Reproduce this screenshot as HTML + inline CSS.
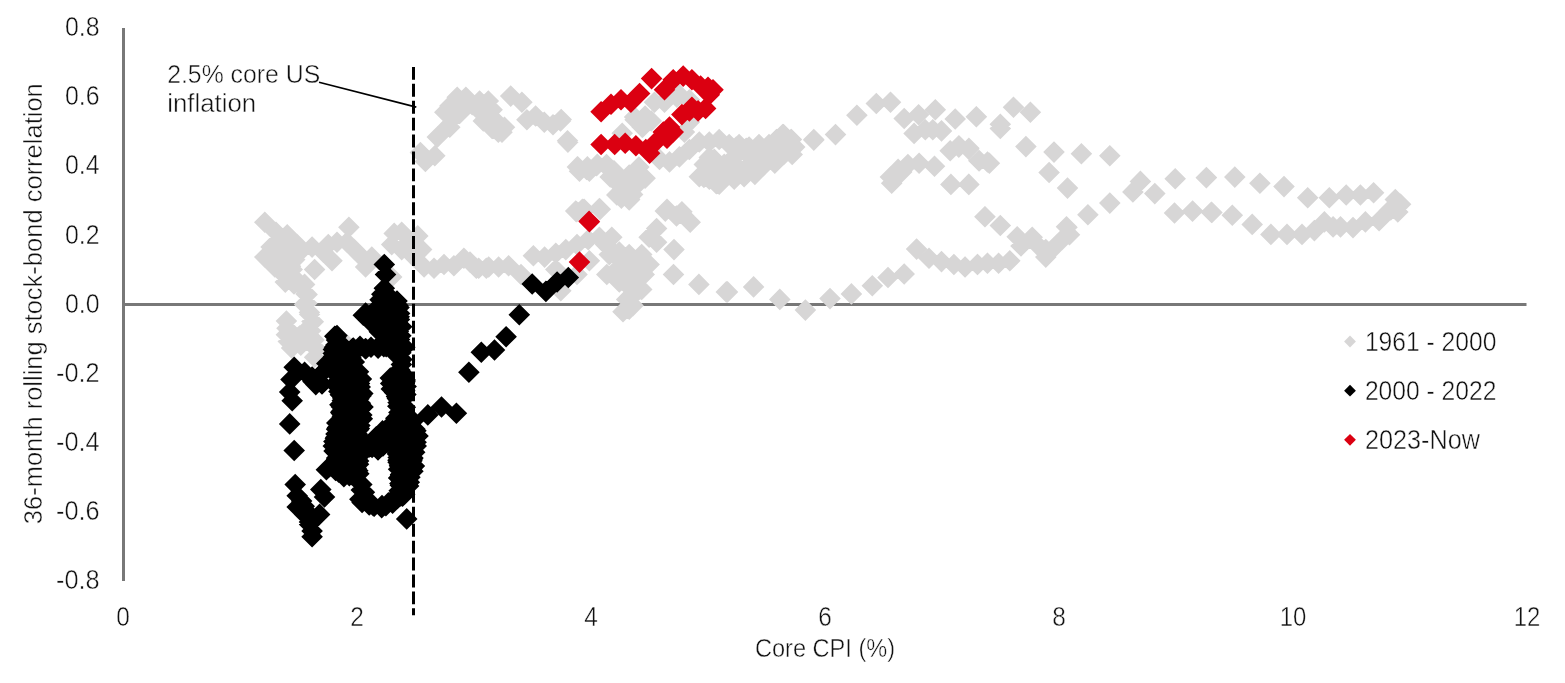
<!DOCTYPE html>
<html lang="en"><head><meta charset="utf-8"><title>Stock-bond correlation vs Core CPI</title>
<style>html,body{margin:0;padding:0;background:#fff}svg{display:block}</style></head>
<body>
<svg width="1565" height="683" viewBox="0 0 1565 683" font-family="'Liberation Sans', sans-serif" fill="#111111">
<style>text{stroke:#fff;stroke-width:0.45px;paint-order:fill stroke}</style>
<rect width="1565" height="683" fill="#fff"/>
<line x1="123.5" y1="28" x2="123.5" y2="581" stroke="#787878" stroke-width="3"/>
<line x1="122" y1="304.5" x2="1526.5" y2="304.5" stroke="#787878" stroke-width="3"/>
<path fill="#d7d6d6" d="M420.4 141.8l10.8 10.8l-10.8 10.8l-10.8 -10.8zM425.4 150.7l10.8 10.8l-10.8 10.8l-10.8 -10.8zM434.8 145.0l10.8 10.8l-10.8 10.8l-10.8 -10.8zM437.3 126.3l10.8 10.8l-10.8 10.8l-10.8 -10.8zM443.5 120.1l10.8 10.8l-10.8 10.8l-10.8 -10.8zM449.8 116.4l10.8 10.8l-10.8 10.8l-10.8 -10.8zM444.8 101.4l10.8 10.8l-10.8 10.8l-10.8 -10.8zM449.8 95.2l10.8 10.8l-10.8 10.8l-10.8 -10.8zM457.2 86.5l10.8 10.8l-10.8 10.8l-10.8 -10.8zM465.9 86.5l10.8 10.8l-10.8 10.8l-10.8 -10.8zM462.2 96.5l10.8 10.8l-10.8 10.8l-10.8 -10.8zM472.2 94.0l10.8 10.8l-10.8 10.8l-10.8 -10.8zM479.6 90.3l10.8 10.8l-10.8 10.8l-10.8 -10.8zM488.3 90.3l10.8 10.8l-10.8 10.8l-10.8 -10.8zM492.1 99.0l10.8 10.8l-10.8 10.8l-10.8 -10.8zM487.1 103.9l10.8 10.8l-10.8 10.8l-10.8 -10.8zM495.8 110.2l10.8 10.8l-10.8 10.8l-10.8 -10.8zM504.5 116.4l10.8 10.8l-10.8 10.8l-10.8 -10.8zM502.0 121.4l10.8 10.8l-10.8 10.8l-10.8 -10.8zM453.5 106.4l10.8 10.8l-10.8 10.8l-10.8 -10.8zM459.7 102.7l10.8 10.8l-10.8 10.8l-10.8 -10.8zM482.1 102.7l10.8 10.8l-10.8 10.8l-10.8 -10.8zM483.3 110.2l10.8 10.8l-10.8 10.8l-10.8 -10.8zM492.1 117.6l10.8 10.8l-10.8 10.8l-10.8 -10.8zM498.3 121.4l10.8 10.8l-10.8 10.8l-10.8 -10.8zM510.7 85.3l10.8 10.8l-10.8 10.8l-10.8 -10.8zM521.9 91.5l10.8 10.8l-10.8 10.8l-10.8 -10.8zM526.9 108.9l10.8 10.8l-10.8 10.8l-10.8 -10.8zM535.6 105.2l10.8 10.8l-10.8 10.8l-10.8 -10.8zM544.3 111.4l10.8 10.8l-10.8 10.8l-10.8 -10.8zM553.0 113.9l10.8 10.8l-10.8 10.8l-10.8 -10.8zM560.5 110.2l10.8 10.8l-10.8 10.8l-10.8 -10.8zM567.9 131.3l10.8 10.8l-10.8 10.8l-10.8 -10.8zM577.9 156.2l10.8 10.8l-10.8 10.8l-10.8 -10.8zM586.6 158.7l10.8 10.8l-10.8 10.8l-10.8 -10.8zM596.6 154.9l10.8 10.8l-10.8 10.8l-10.8 -10.8zM606.5 153.7l10.8 10.8l-10.8 10.8l-10.8 -10.8zM614.0 159.9l10.8 10.8l-10.8 10.8l-10.8 -10.8zM610.2 166.1l10.8 10.8l-10.8 10.8l-10.8 -10.8zM618.9 173.6l10.8 10.8l-10.8 10.8l-10.8 -10.8zM627.7 166.1l10.8 10.8l-10.8 10.8l-10.8 -10.8zM632.6 183.6l10.8 10.8l-10.8 10.8l-10.8 -10.8zM621.4 187.3l10.8 10.8l-10.8 10.8l-10.8 -10.8zM628.9 188.5l10.8 10.8l-10.8 10.8l-10.8 -10.8zM645.1 167.4l10.8 10.8l-10.8 10.8l-10.8 -10.8zM638.9 156.2l10.8 10.8l-10.8 10.8l-10.8 -10.8zM635.1 108.9l10.8 10.8l-10.8 10.8l-10.8 -10.8zM645.1 105.2l10.8 10.8l-10.8 10.8l-10.8 -10.8zM651.3 110.2l10.8 10.8l-10.8 10.8l-10.8 -10.8zM642.6 116.4l10.8 10.8l-10.8 10.8l-10.8 -10.8zM576.7 201.0l10.8 10.8l-10.8 10.8l-10.8 -10.8zM584.1 198.5l10.8 10.8l-10.8 10.8l-10.8 -10.8zM600.3 198.5l10.8 10.8l-10.8 10.8l-10.8 -10.8zM264.8 211.4l10.8 10.8l-10.8 10.8l-10.8 -10.8zM276.0 221.4l10.8 10.8l-10.8 10.8l-10.8 -10.8zM287.2 223.9l10.8 10.8l-10.8 10.8l-10.8 -10.8zM264.8 246.3l10.8 10.8l-10.8 10.8l-10.8 -10.8zM271.1 236.3l10.8 10.8l-10.8 10.8l-10.8 -10.8zM277.3 231.4l10.8 10.8l-10.8 10.8l-10.8 -10.8zM283.5 241.3l10.8 10.8l-10.8 10.8l-10.8 -10.8zM274.8 256.2l10.8 10.8l-10.8 10.8l-10.8 -10.8zM283.5 263.7l10.8 10.8l-10.8 10.8l-10.8 -10.8zM292.2 258.7l10.8 10.8l-10.8 10.8l-10.8 -10.8zM294.7 248.8l10.8 10.8l-10.8 10.8l-10.8 -10.8zM302.2 238.8l10.8 10.8l-10.8 10.8l-10.8 -10.8zM297.2 233.8l10.8 10.8l-10.8 10.8l-10.8 -10.8zM287.2 233.8l10.8 10.8l-10.8 10.8l-10.8 -10.8zM279.8 248.8l10.8 10.8l-10.8 10.8l-10.8 -10.8zM314.6 258.7l10.8 10.8l-10.8 10.8l-10.8 -10.8zM293.4 266.2l10.8 10.8l-10.8 10.8l-10.8 -10.8zM297.2 271.2l10.8 10.8l-10.8 10.8l-10.8 -10.8zM304.6 273.6l10.8 10.8l-10.8 10.8l-10.8 -10.8zM307.1 283.6l10.8 10.8l-10.8 10.8l-10.8 -10.8zM304.6 293.6l10.8 10.8l-10.8 10.8l-10.8 -10.8zM309.6 303.5l10.8 10.8l-10.8 10.8l-10.8 -10.8zM313.3 311.0l10.8 10.8l-10.8 10.8l-10.8 -10.8zM307.1 318.4l10.8 10.8l-10.8 10.8l-10.8 -10.8zM312.1 236.3l10.8 10.8l-10.8 10.8l-10.8 -10.8zM323.3 241.3l10.8 10.8l-10.8 10.8l-10.8 -10.8zM332.0 250.0l10.8 10.8l-10.8 10.8l-10.8 -10.8zM328.3 233.8l10.8 10.8l-10.8 10.8l-10.8 -10.8zM337.0 231.4l10.8 10.8l-10.8 10.8l-10.8 -10.8zM348.9 216.4l10.8 10.8l-10.8 10.8l-10.8 -10.8zM346.9 231.4l10.8 10.8l-10.8 10.8l-10.8 -10.8zM354.4 238.8l10.8 10.8l-10.8 10.8l-10.8 -10.8zM361.9 246.3l10.8 10.8l-10.8 10.8l-10.8 -10.8zM365.6 256.2l10.8 10.8l-10.8 10.8l-10.8 -10.8zM371.8 246.3l10.8 10.8l-10.8 10.8l-10.8 -10.8zM394.2 222.6l10.8 10.8l-10.8 10.8l-10.8 -10.8zM401.7 221.4l10.8 10.8l-10.8 10.8l-10.8 -10.8zM409.1 231.4l10.8 10.8l-10.8 10.8l-10.8 -10.8zM391.7 233.8l10.8 10.8l-10.8 10.8l-10.8 -10.8zM401.7 238.8l10.8 10.8l-10.8 10.8l-10.8 -10.8zM417.8 225.1l10.8 10.8l-10.8 10.8l-10.8 -10.8zM421.6 238.8l10.8 10.8l-10.8 10.8l-10.8 -10.8zM414.1 246.3l10.8 10.8l-10.8 10.8l-10.8 -10.8zM424.1 256.2l10.8 10.8l-10.8 10.8l-10.8 -10.8zM434.0 257.5l10.8 10.8l-10.8 10.8l-10.8 -10.8zM444.0 253.7l10.8 10.8l-10.8 10.8l-10.8 -10.8zM453.9 255.0l10.8 10.8l-10.8 10.8l-10.8 -10.8zM463.9 247.5l10.8 10.8l-10.8 10.8l-10.8 -10.8zM476.3 257.5l10.8 10.8l-10.8 10.8l-10.8 -10.8zM486.3 257.5l10.8 10.8l-10.8 10.8l-10.8 -10.8zM391.7 266.2l10.8 10.8l-10.8 10.8l-10.8 -10.8zM314.6 346.4l10.8 10.8l-10.8 10.8l-10.8 -10.8zM346.9 334.0l10.8 10.8l-10.8 10.8l-10.8 -10.8zM286.4 310.2l10.8 10.8l-10.8 10.8l-10.8 -10.8zM287.0 317.4l10.8 10.8l-10.8 10.8l-10.8 -10.8zM286.4 324.0l10.8 10.8l-10.8 10.8l-10.8 -10.8zM288.3 330.6l10.8 10.8l-10.8 10.8l-10.8 -10.8zM291.6 337.2l10.8 10.8l-10.8 10.8l-10.8 -10.8zM299.5 325.3l10.8 10.8l-10.8 10.8l-10.8 -10.8zM300.8 334.5l10.8 10.8l-10.8 10.8l-10.8 -10.8zM306.1 283.2l10.8 10.8l-10.8 10.8l-10.8 -10.8zM306.8 292.4l10.8 10.8l-10.8 10.8l-10.8 -10.8zM309.4 301.6l10.8 10.8l-10.8 10.8l-10.8 -10.8zM312.0 310.8l10.8 10.8l-10.8 10.8l-10.8 -10.8zM310.7 320.0l10.8 10.8l-10.8 10.8l-10.8 -10.8zM314.0 329.3l10.8 10.8l-10.8 10.8l-10.8 -10.8zM316.7 338.5l10.8 10.8l-10.8 10.8l-10.8 -10.8zM470.0 251.3l10.8 10.8l-10.8 10.8l-10.8 -10.8zM478.7 257.5l10.8 10.8l-10.8 10.8l-10.8 -10.8zM488.7 256.2l10.8 10.8l-10.8 10.8l-10.8 -10.8zM498.6 256.2l10.8 10.8l-10.8 10.8l-10.8 -10.8zM508.6 255.0l10.8 10.8l-10.8 10.8l-10.8 -10.8zM521.0 263.7l10.8 10.8l-10.8 10.8l-10.8 -10.8zM533.4 245.0l10.8 10.8l-10.8 10.8l-10.8 -10.8zM544.6 246.3l10.8 10.8l-10.8 10.8l-10.8 -10.8zM555.8 242.5l10.8 10.8l-10.8 10.8l-10.8 -10.8zM565.8 238.8l10.8 10.8l-10.8 10.8l-10.8 -10.8zM577.0 233.8l10.8 10.8l-10.8 10.8l-10.8 -10.8zM588.2 228.9l10.8 10.8l-10.8 10.8l-10.8 -10.8zM555.8 258.7l10.8 10.8l-10.8 10.8l-10.8 -10.8zM560.8 279.9l10.8 10.8l-10.8 10.8l-10.8 -10.8zM577.0 263.7l10.8 10.8l-10.8 10.8l-10.8 -10.8zM589.4 250.0l10.8 10.8l-10.8 10.8l-10.8 -10.8zM575.7 200.3l10.8 10.8l-10.8 10.8l-10.8 -10.8zM583.2 199.0l10.8 10.8l-10.8 10.8l-10.8 -10.8zM599.4 197.8l10.8 10.8l-10.8 10.8l-10.8 -10.8zM599.4 226.4l10.8 10.8l-10.8 10.8l-10.8 -10.8zM611.8 226.4l10.8 10.8l-10.8 10.8l-10.8 -10.8zM605.6 233.8l10.8 10.8l-10.8 10.8l-10.8 -10.8zM609.3 243.8l10.8 10.8l-10.8 10.8l-10.8 -10.8zM619.3 241.3l10.8 10.8l-10.8 10.8l-10.8 -10.8zM629.2 243.8l10.8 10.8l-10.8 10.8l-10.8 -10.8zM641.7 243.8l10.8 10.8l-10.8 10.8l-10.8 -10.8zM649.1 253.7l10.8 10.8l-10.8 10.8l-10.8 -10.8zM644.2 263.7l10.8 10.8l-10.8 10.8l-10.8 -10.8zM629.2 258.7l10.8 10.8l-10.8 10.8l-10.8 -10.8zM616.8 258.7l10.8 10.8l-10.8 10.8l-10.8 -10.8zM606.8 263.7l10.8 10.8l-10.8 10.8l-10.8 -10.8zM619.3 271.2l10.8 10.8l-10.8 10.8l-10.8 -10.8zM629.2 276.1l10.8 10.8l-10.8 10.8l-10.8 -10.8zM641.7 278.6l10.8 10.8l-10.8 10.8l-10.8 -10.8zM634.2 283.6l10.8 10.8l-10.8 10.8l-10.8 -10.8zM626.7 288.6l10.8 10.8l-10.8 10.8l-10.8 -10.8zM629.2 298.5l10.8 10.8l-10.8 10.8l-10.8 -10.8zM623.0 301.0l10.8 10.8l-10.8 10.8l-10.8 -10.8zM633.0 294.8l10.8 10.8l-10.8 10.8l-10.8 -10.8zM611.8 166.7l10.8 10.8l-10.8 10.8l-10.8 -10.8zM621.8 174.1l10.8 10.8l-10.8 10.8l-10.8 -10.8zM616.8 184.1l10.8 10.8l-10.8 10.8l-10.8 -10.8zM629.2 189.1l10.8 10.8l-10.8 10.8l-10.8 -10.8zM631.7 179.1l10.8 10.8l-10.8 10.8l-10.8 -10.8zM641.7 169.2l10.8 10.8l-10.8 10.8l-10.8 -10.8zM629.2 164.2l10.8 10.8l-10.8 10.8l-10.8 -10.8zM665.3 200.3l10.8 10.8l-10.8 10.8l-10.8 -10.8zM676.5 205.2l10.8 10.8l-10.8 10.8l-10.8 -10.8zM684.0 205.2l10.8 10.8l-10.8 10.8l-10.8 -10.8zM690.2 211.4l10.8 10.8l-10.8 10.8l-10.8 -10.8zM656.6 217.7l10.8 10.8l-10.8 10.8l-10.8 -10.8zM649.1 226.4l10.8 10.8l-10.8 10.8l-10.8 -10.8zM656.6 231.4l10.8 10.8l-10.8 10.8l-10.8 -10.8zM674.0 238.8l10.8 10.8l-10.8 10.8l-10.8 -10.8zM673.5 263.7l10.8 10.8l-10.8 10.8l-10.8 -10.8zM698.9 273.6l10.8 10.8l-10.8 10.8l-10.8 -10.8zM726.3 281.1l10.8 10.8l-10.8 10.8l-10.8 -10.8zM579.5 160.4l10.8 10.8l-10.8 10.8l-10.8 -10.8zM589.4 160.4l10.8 10.8l-10.8 10.8l-10.8 -10.8zM703.9 166.7l10.8 10.8l-10.8 10.8l-10.8 -10.8zM716.3 172.9l10.8 10.8l-10.8 10.8l-10.8 -10.8zM561.2 108.8l10.8 10.8l-10.8 10.8l-10.8 -10.8zM567.5 130.0l10.8 10.8l-10.8 10.8l-10.8 -10.8zM577.4 156.1l10.8 10.8l-10.8 10.8l-10.8 -10.8zM587.4 156.1l10.8 10.8l-10.8 10.8l-10.8 -10.8zM597.3 153.6l10.8 10.8l-10.8 10.8l-10.8 -10.8zM609.8 158.6l10.8 10.8l-10.8 10.8l-10.8 -10.8zM617.2 166.0l10.8 10.8l-10.8 10.8l-10.8 -10.8zM624.7 173.5l10.8 10.8l-10.8 10.8l-10.8 -10.8zM632.2 168.5l10.8 10.8l-10.8 10.8l-10.8 -10.8zM642.1 168.5l10.8 10.8l-10.8 10.8l-10.8 -10.8zM622.2 183.5l10.8 10.8l-10.8 10.8l-10.8 -10.8zM629.7 188.4l10.8 10.8l-10.8 10.8l-10.8 -10.8zM634.6 106.3l10.8 10.8l-10.8 10.8l-10.8 -10.8zM644.6 108.8l10.8 10.8l-10.8 10.8l-10.8 -10.8zM654.5 91.4l10.8 10.8l-10.8 10.8l-10.8 -10.8zM664.5 91.4l10.8 10.8l-10.8 10.8l-10.8 -10.8zM676.9 86.4l10.8 10.8l-10.8 10.8l-10.8 -10.8zM642.1 116.3l10.8 10.8l-10.8 10.8l-10.8 -10.8zM679.4 83.9l10.8 10.8l-10.8 10.8l-10.8 -10.8zM689.4 88.9l10.8 10.8l-10.8 10.8l-10.8 -10.8zM689.4 111.3l10.8 10.8l-10.8 10.8l-10.8 -10.8zM684.4 121.3l10.8 10.8l-10.8 10.8l-10.8 -10.8zM622.2 122.5l10.8 10.8l-10.8 10.8l-10.8 -10.8zM659.5 148.6l10.8 10.8l-10.8 10.8l-10.8 -10.8zM669.5 151.1l10.8 10.8l-10.8 10.8l-10.8 -10.8zM679.4 146.1l10.8 10.8l-10.8 10.8l-10.8 -10.8zM689.4 138.7l10.8 10.8l-10.8 10.8l-10.8 -10.8zM699.3 131.2l10.8 10.8l-10.8 10.8l-10.8 -10.8zM709.3 131.2l10.8 10.8l-10.8 10.8l-10.8 -10.8zM719.2 128.7l10.8 10.8l-10.8 10.8l-10.8 -10.8zM729.2 133.7l10.8 10.8l-10.8 10.8l-10.8 -10.8zM739.1 133.7l10.8 10.8l-10.8 10.8l-10.8 -10.8zM749.1 136.2l10.8 10.8l-10.8 10.8l-10.8 -10.8zM759.0 133.7l10.8 10.8l-10.8 10.8l-10.8 -10.8zM769.0 133.7l10.8 10.8l-10.8 10.8l-10.8 -10.8zM776.5 128.7l10.8 10.8l-10.8 10.8l-10.8 -10.8zM782.7 123.7l10.8 10.8l-10.8 10.8l-10.8 -10.8zM791.4 128.7l10.8 10.8l-10.8 10.8l-10.8 -10.8zM793.9 136.2l10.8 10.8l-10.8 10.8l-10.8 -10.8zM783.9 143.6l10.8 10.8l-10.8 10.8l-10.8 -10.8zM774.0 151.1l10.8 10.8l-10.8 10.8l-10.8 -10.8zM764.0 153.6l10.8 10.8l-10.8 10.8l-10.8 -10.8zM754.1 161.1l10.8 10.8l-10.8 10.8l-10.8 -10.8zM744.1 166.0l10.8 10.8l-10.8 10.8l-10.8 -10.8zM734.2 168.5l10.8 10.8l-10.8 10.8l-10.8 -10.8zM721.7 171.0l10.8 10.8l-10.8 10.8l-10.8 -10.8zM719.2 173.5l10.8 10.8l-10.8 10.8l-10.8 -10.8zM709.3 168.5l10.8 10.8l-10.8 10.8l-10.8 -10.8zM699.3 166.0l10.8 10.8l-10.8 10.8l-10.8 -10.8zM704.3 153.6l10.8 10.8l-10.8 10.8l-10.8 -10.8zM714.3 148.6l10.8 10.8l-10.8 10.8l-10.8 -10.8zM724.2 153.6l10.8 10.8l-10.8 10.8l-10.8 -10.8zM734.2 146.1l10.8 10.8l-10.8 10.8l-10.8 -10.8zM813.8 128.7l10.8 10.8l-10.8 10.8l-10.8 -10.8zM582.4 198.4l10.8 10.8l-10.8 10.8l-10.8 -10.8zM599.8 198.4l10.8 10.8l-10.8 10.8l-10.8 -10.8zM667.0 198.4l10.8 10.8l-10.8 10.8l-10.8 -10.8zM681.9 200.9l10.8 10.8l-10.8 10.8l-10.8 -10.8zM736.2 136.3l10.8 10.8l-10.8 10.8l-10.8 -10.8zM746.2 137.5l10.8 10.8l-10.8 10.8l-10.8 -10.8zM756.1 137.5l10.8 10.8l-10.8 10.8l-10.8 -10.8zM764.8 140.0l10.8 10.8l-10.8 10.8l-10.8 -10.8zM774.8 136.3l10.8 10.8l-10.8 10.8l-10.8 -10.8zM783.5 123.8l10.8 10.8l-10.8 10.8l-10.8 -10.8zM791.0 128.8l10.8 10.8l-10.8 10.8l-10.8 -10.8zM794.7 136.3l10.8 10.8l-10.8 10.8l-10.8 -10.8zM792.2 143.7l10.8 10.8l-10.8 10.8l-10.8 -10.8zM782.2 136.3l10.8 10.8l-10.8 10.8l-10.8 -10.8zM774.8 152.5l10.8 10.8l-10.8 10.8l-10.8 -10.8zM764.8 153.7l10.8 10.8l-10.8 10.8l-10.8 -10.8zM754.9 163.6l10.8 10.8l-10.8 10.8l-10.8 -10.8zM744.9 158.7l10.8 10.8l-10.8 10.8l-10.8 -10.8zM736.2 166.1l10.8 10.8l-10.8 10.8l-10.8 -10.8zM735.0 153.7l10.8 10.8l-10.8 10.8l-10.8 -10.8zM813.8 129.3l10.8 10.8l-10.8 10.8l-10.8 -10.8zM835.5 123.8l10.8 10.8l-10.8 10.8l-10.8 -10.8zM856.9 104.4l10.8 10.8l-10.8 10.8l-10.8 -10.8zM876.3 92.7l10.8 10.8l-10.8 10.8l-10.8 -10.8zM890.5 91.5l10.8 10.8l-10.8 10.8l-10.8 -10.8zM904.2 107.7l10.8 10.8l-10.8 10.8l-10.8 -10.8zM918.6 103.9l10.8 10.8l-10.8 10.8l-10.8 -10.8zM935.3 99.0l10.8 10.8l-10.8 10.8l-10.8 -10.8zM955.2 108.2l10.8 10.8l-10.8 10.8l-10.8 -10.8zM976.3 105.9l10.8 10.8l-10.8 10.8l-10.8 -10.8zM914.1 122.6l10.8 10.8l-10.8 10.8l-10.8 -10.8zM925.3 118.9l10.8 10.8l-10.8 10.8l-10.8 -10.8zM932.8 118.9l10.8 10.8l-10.8 10.8l-10.8 -10.8zM941.5 120.1l10.8 10.8l-10.8 10.8l-10.8 -10.8zM950.2 140.0l10.8 10.8l-10.8 10.8l-10.8 -10.8zM958.9 135.0l10.8 10.8l-10.8 10.8l-10.8 -10.8zM968.9 137.5l10.8 10.8l-10.8 10.8l-10.8 -10.8zM978.8 150.0l10.8 10.8l-10.8 10.8l-10.8 -10.8zM987.5 151.2l10.8 10.8l-10.8 10.8l-10.8 -10.8zM891.7 172.4l10.8 10.8l-10.8 10.8l-10.8 -10.8zM896.7 166.1l10.8 10.8l-10.8 10.8l-10.8 -10.8zM901.7 161.2l10.8 10.8l-10.8 10.8l-10.8 -10.8zM907.9 153.7l10.8 10.8l-10.8 10.8l-10.8 -10.8zM919.1 152.5l10.8 10.8l-10.8 10.8l-10.8 -10.8zM934.5 155.4l10.8 10.8l-10.8 10.8l-10.8 -10.8zM950.9 173.6l10.8 10.8l-10.8 10.8l-10.8 -10.8zM968.9 173.6l10.8 10.8l-10.8 10.8l-10.8 -10.8zM985.0 205.9l10.8 10.8l-10.8 10.8l-10.8 -10.8zM727.5 281.1l10.8 10.8l-10.8 10.8l-10.8 -10.8zM753.6 276.1l10.8 10.8l-10.8 10.8l-10.8 -10.8zM779.8 288.6l10.8 10.8l-10.8 10.8l-10.8 -10.8zM805.4 299.3l10.8 10.8l-10.8 10.8l-10.8 -10.8zM830.0 287.8l10.8 10.8l-10.8 10.8l-10.8 -10.8zM851.4 283.1l10.8 10.8l-10.8 10.8l-10.8 -10.8zM872.3 274.9l10.8 10.8l-10.8 10.8l-10.8 -10.8zM888.0 266.7l10.8 10.8l-10.8 10.8l-10.8 -10.8zM904.2 263.2l10.8 10.8l-10.8 10.8l-10.8 -10.8zM916.6 238.3l10.8 10.8l-10.8 10.8l-10.8 -10.8zM929.0 247.5l10.8 10.8l-10.8 10.8l-10.8 -10.8zM941.5 250.8l10.8 10.8l-10.8 10.8l-10.8 -10.8zM953.9 253.7l10.8 10.8l-10.8 10.8l-10.8 -10.8zM965.1 256.2l10.8 10.8l-10.8 10.8l-10.8 -10.8zM977.6 253.7l10.8 10.8l-10.8 10.8l-10.8 -10.8zM987.5 252.5l10.8 10.8l-10.8 10.8l-10.8 -10.8zM976.4 105.9l10.8 10.8l-10.8 10.8l-10.8 -10.8zM1000.3 113.4l10.8 10.8l-10.8 10.8l-10.8 -10.8zM1000.3 117.6l10.8 10.8l-10.8 10.8l-10.8 -10.8zM1013.5 96.5l10.8 10.8l-10.8 10.8l-10.8 -10.8zM1030.4 101.4l10.8 10.8l-10.8 10.8l-10.8 -10.8zM958.8 136.3l10.8 10.8l-10.8 10.8l-10.8 -10.8zM968.7 138.3l10.8 10.8l-10.8 10.8l-10.8 -10.8zM979.4 150.0l10.8 10.8l-10.8 10.8l-10.8 -10.8zM989.4 152.5l10.8 10.8l-10.8 10.8l-10.8 -10.8zM968.7 173.6l10.8 10.8l-10.8 10.8l-10.8 -10.8zM1025.9 135.8l10.8 10.8l-10.8 10.8l-10.8 -10.8zM1054.0 141.3l10.8 10.8l-10.8 10.8l-10.8 -10.8zM1081.4 143.0l10.8 10.8l-10.8 10.8l-10.8 -10.8zM1109.8 145.0l10.8 10.8l-10.8 10.8l-10.8 -10.8zM1049.1 161.7l10.8 10.8l-10.8 10.8l-10.8 -10.8zM1067.5 177.3l10.8 10.8l-10.8 10.8l-10.8 -10.8zM984.9 205.9l10.8 10.8l-10.8 10.8l-10.8 -10.8zM1000.3 214.7l10.8 10.8l-10.8 10.8l-10.8 -10.8zM1066.5 215.9l10.8 10.8l-10.8 10.8l-10.8 -10.8zM1087.9 204.0l10.8 10.8l-10.8 10.8l-10.8 -10.8zM1109.8 192.3l10.8 10.8l-10.8 10.8l-10.8 -10.8zM1132.9 181.1l10.8 10.8l-10.8 10.8l-10.8 -10.8zM1140.4 170.6l10.8 10.8l-10.8 10.8l-10.8 -10.8zM1154.8 182.8l10.8 10.8l-10.8 10.8l-10.8 -10.8zM1175.2 167.9l10.8 10.8l-10.8 10.8l-10.8 -10.8zM1206.3 166.9l10.8 10.8l-10.8 10.8l-10.8 -10.8zM1174.5 202.2l10.8 10.8l-10.8 10.8l-10.8 -10.8zM1192.6 200.2l10.8 10.8l-10.8 10.8l-10.8 -10.8zM1211.3 201.5l10.8 10.8l-10.8 10.8l-10.8 -10.8zM1017.2 225.9l10.8 10.8l-10.8 10.8l-10.8 -10.8zM1021.0 235.1l10.8 10.8l-10.8 10.8l-10.8 -10.8zM1032.2 226.4l10.8 10.8l-10.8 10.8l-10.8 -10.8zM1037.1 233.8l10.8 10.8l-10.8 10.8l-10.8 -10.8zM1045.8 246.3l10.8 10.8l-10.8 10.8l-10.8 -10.8zM1045.8 238.8l10.8 10.8l-10.8 10.8l-10.8 -10.8zM1054.5 236.3l10.8 10.8l-10.8 10.8l-10.8 -10.8zM1062.0 228.9l10.8 10.8l-10.8 10.8l-10.8 -10.8zM1067.0 216.4l10.8 10.8l-10.8 10.8l-10.8 -10.8zM1069.5 223.9l10.8 10.8l-10.8 10.8l-10.8 -10.8zM965.0 256.2l10.8 10.8l-10.8 10.8l-10.8 -10.8zM977.4 253.7l10.8 10.8l-10.8 10.8l-10.8 -10.8zM987.4 252.5l10.8 10.8l-10.8 10.8l-10.8 -10.8zM998.6 252.5l10.8 10.8l-10.8 10.8l-10.8 -10.8zM1009.8 250.0l10.8 10.8l-10.8 10.8l-10.8 -10.8zM1206.4 166.8l10.8 10.8l-10.8 10.8l-10.8 -10.8zM1234.8 166.3l10.8 10.8l-10.8 10.8l-10.8 -10.8zM1259.9 172.5l10.8 10.8l-10.8 10.8l-10.8 -10.8zM1284.0 175.8l10.8 10.8l-10.8 10.8l-10.8 -10.8zM1307.7 187.0l10.8 10.8l-10.8 10.8l-10.8 -10.8zM1329.3 187.0l10.8 10.8l-10.8 10.8l-10.8 -10.8zM1346.2 184.2l10.8 10.8l-10.8 10.8l-10.8 -10.8zM1360.4 184.2l10.8 10.8l-10.8 10.8l-10.8 -10.8zM1373.6 182.0l10.8 10.8l-10.8 10.8l-10.8 -10.8zM1395.3 188.7l10.8 10.8l-10.8 10.8l-10.8 -10.8zM1192.5 200.4l10.8 10.8l-10.8 10.8l-10.8 -10.8zM1211.9 201.7l10.8 10.8l-10.8 10.8l-10.8 -10.8zM1232.3 204.4l10.8 10.8l-10.8 10.8l-10.8 -10.8zM1252.2 213.6l10.8 10.8l-10.8 10.8l-10.8 -10.8zM1270.9 223.6l10.8 10.8l-10.8 10.8l-10.8 -10.8zM1287.0 223.6l10.8 10.8l-10.8 10.8l-10.8 -10.8zM1302.0 223.6l10.8 10.8l-10.8 10.8l-10.8 -10.8zM1314.4 219.8l10.8 10.8l-10.8 10.8l-10.8 -10.8zM1324.4 211.1l10.8 10.8l-10.8 10.8l-10.8 -10.8zM1333.1 216.1l10.8 10.8l-10.8 10.8l-10.8 -10.8zM1340.5 216.1l10.8 10.8l-10.8 10.8l-10.8 -10.8zM1353.0 216.8l10.8 10.8l-10.8 10.8l-10.8 -10.8zM1365.4 211.1l10.8 10.8l-10.8 10.8l-10.8 -10.8zM1379.1 209.9l10.8 10.8l-10.8 10.8l-10.8 -10.8zM1389.0 199.9l10.8 10.8l-10.8 10.8l-10.8 -10.8zM1397.8 201.2l10.8 10.8l-10.8 10.8l-10.8 -10.8zM622.2 251.1l10.8 10.8l-10.8 10.8l-10.8 -10.8zM634.6 256.0l10.8 10.8l-10.8 10.8l-10.8 -10.8zM627.2 266.0l10.8 10.8l-10.8 10.8l-10.8 -10.8zM617.2 258.5l10.8 10.8l-10.8 10.8l-10.8 -10.8zM639.6 248.6l10.8 10.8l-10.8 10.8l-10.8 -10.8zM632.2 271.0l10.8 10.8l-10.8 10.8l-10.8 -10.8zM751.6 147.8l10.8 10.8l-10.8 10.8l-10.8 -10.8zM714.3 159.0l10.8 10.8l-10.8 10.8l-10.8 -10.8zM726.7 161.5l10.8 10.8l-10.8 10.8l-10.8 -10.8zM719.2 154.0l10.8 10.8l-10.8 10.8l-10.8 -10.8zM734.2 156.5l10.8 10.8l-10.8 10.8l-10.8 -10.8zM709.3 146.6l10.8 10.8l-10.8 10.8l-10.8 -10.8zM290.5 255.5l10.8 10.8l-10.8 10.8l-10.8 -10.8zM285.3 271.3l10.8 10.8l-10.8 10.8l-10.8 -10.8zM294.0 273.1l10.8 10.8l-10.8 10.8l-10.8 -10.8zM1400.6 193.5l10.8 10.8l-10.8 10.8l-10.8 -10.8zM1390.8 199.1l10.8 10.8l-10.8 10.8l-10.8 -10.8zM1065.4 225.5l10.8 10.8l-10.8 10.8l-10.8 -10.8zM1057.0 233.8l10.8 10.8l-10.8 10.8l-10.8 -10.8zM898.1 158.6l10.8 10.8l-10.8 10.8l-10.8 -10.8zM890.4 166.2l10.8 10.8l-10.8 10.8l-10.8 -10.8z"/>
<path fill="#000" d="M532.2 273.2l10.8 10.8l-10.8 10.8l-10.8 -10.8zM545.9 280.6l10.8 10.8l-10.8 10.8l-10.8 -10.8zM557.1 271.2l10.8 10.8l-10.8 10.8l-10.8 -10.8zM568.3 266.7l10.8 10.8l-10.8 10.8l-10.8 -10.8zM519.3 304.0l10.8 10.8l-10.8 10.8l-10.8 -10.8zM506.1 325.9l10.8 10.8l-10.8 10.8l-10.8 -10.8zM384.3 253.7l10.8 10.8l-10.8 10.8l-10.8 -10.8zM385.5 263.7l10.8 10.8l-10.8 10.8l-10.8 -10.8zM384.3 277.4l10.8 10.8l-10.8 10.8l-10.8 -10.8zM389.2 286.1l10.8 10.8l-10.8 10.8l-10.8 -10.8zM397.9 294.8l10.8 10.8l-10.8 10.8l-10.8 -10.8zM365.6 302.3l10.8 10.8l-10.8 10.8l-10.8 -10.8zM374.3 308.5l10.8 10.8l-10.8 10.8l-10.8 -10.8zM389.2 303.5l10.8 10.8l-10.8 10.8l-10.8 -10.8zM399.2 306.0l10.8 10.8l-10.8 10.8l-10.8 -10.8zM401.7 315.9l10.8 10.8l-10.8 10.8l-10.8 -10.8zM337.0 324.7l10.8 10.8l-10.8 10.8l-10.8 -10.8zM379.3 320.9l10.8 10.8l-10.8 10.8l-10.8 -10.8zM289.7 413.1l10.8 10.8l-10.8 10.8l-10.8 -10.8zM294.2 439.7l10.8 10.8l-10.8 10.8l-10.8 -10.8zM468.9 361.4l10.8 10.8l-10.8 10.8l-10.8 -10.8zM481.3 341.4l10.8 10.8l-10.8 10.8l-10.8 -10.8zM427.8 404.1l10.8 10.8l-10.8 10.8l-10.8 -10.8zM441.5 396.2l10.8 10.8l-10.8 10.8l-10.8 -10.8zM456.4 402.4l10.8 10.8l-10.8 10.8l-10.8 -10.8zM294.2 356.4l10.8 10.8l-10.8 10.8l-10.8 -10.8zM291.0 368.8l10.8 10.8l-10.8 10.8l-10.8 -10.8zM289.7 381.3l10.8 10.8l-10.8 10.8l-10.8 -10.8zM292.2 390.0l10.8 10.8l-10.8 10.8l-10.8 -10.8zM304.6 361.4l10.8 10.8l-10.8 10.8l-10.8 -10.8zM315.8 373.8l10.8 10.8l-10.8 10.8l-10.8 -10.8zM312.1 366.3l10.8 10.8l-10.8 10.8l-10.8 -10.8zM335.7 326.5l10.8 10.8l-10.8 10.8l-10.8 -10.8zM334.5 336.5l10.8 10.8l-10.8 10.8l-10.8 -10.8zM295.2 473.8l10.8 10.8l-10.8 10.8l-10.8 -10.8zM297.2 485.0l10.8 10.8l-10.8 10.8l-10.8 -10.8zM297.2 496.2l10.8 10.8l-10.8 10.8l-10.8 -10.8zM304.6 503.6l10.8 10.8l-10.8 10.8l-10.8 -10.8zM309.6 513.6l10.8 10.8l-10.8 10.8l-10.8 -10.8zM319.6 503.6l10.8 10.8l-10.8 10.8l-10.8 -10.8zM312.1 526.0l10.8 10.8l-10.8 10.8l-10.8 -10.8zM320.8 478.8l10.8 10.8l-10.8 10.8l-10.8 -10.8zM324.5 486.2l10.8 10.8l-10.8 10.8l-10.8 -10.8zM406.7 508.1l10.8 10.8l-10.8 10.8l-10.8 -10.8zM334.8 325.4l10.8 10.8l-10.8 10.8l-10.8 -10.8zM336.5 329.3l10.8 10.8l-10.8 10.8l-10.8 -10.8zM335.9 334.3l10.8 10.8l-10.8 10.8l-10.8 -10.8zM333.4 338.7l10.8 10.8l-10.8 10.8l-10.8 -10.8zM333.3 342.6l10.8 10.8l-10.8 10.8l-10.8 -10.8zM333.5 345.6l10.8 10.8l-10.8 10.8l-10.8 -10.8zM335.3 351.9l10.8 10.8l-10.8 10.8l-10.8 -10.8zM333.7 354.1l10.8 10.8l-10.8 10.8l-10.8 -10.8zM336.4 360.5l10.8 10.8l-10.8 10.8l-10.8 -10.8zM336.1 362.9l10.8 10.8l-10.8 10.8l-10.8 -10.8zM338.2 365.8l10.8 10.8l-10.8 10.8l-10.8 -10.8zM337.6 370.6l10.8 10.8l-10.8 10.8l-10.8 -10.8zM336.0 374.3l10.8 10.8l-10.8 10.8l-10.8 -10.8zM338.9 380.6l10.8 10.8l-10.8 10.8l-10.8 -10.8zM340.3 384.0l10.8 10.8l-10.8 10.8l-10.8 -10.8zM342.7 387.1l10.8 10.8l-10.8 10.8l-10.8 -10.8zM342.3 389.8l10.8 10.8l-10.8 10.8l-10.8 -10.8zM339.9 394.0l10.8 10.8l-10.8 10.8l-10.8 -10.8zM343.2 398.5l10.8 10.8l-10.8 10.8l-10.8 -10.8zM341.4 402.7l10.8 10.8l-10.8 10.8l-10.8 -10.8zM342.3 405.5l10.8 10.8l-10.8 10.8l-10.8 -10.8zM342.3 409.8l10.8 10.8l-10.8 10.8l-10.8 -10.8zM337.8 412.6l10.8 10.8l-10.8 10.8l-10.8 -10.8zM337.5 416.7l10.8 10.8l-10.8 10.8l-10.8 -10.8zM336.9 417.9l10.8 10.8l-10.8 10.8l-10.8 -10.8zM338.2 421.4l10.8 10.8l-10.8 10.8l-10.8 -10.8zM335.3 427.5l10.8 10.8l-10.8 10.8l-10.8 -10.8zM333.9 430.7l10.8 10.8l-10.8 10.8l-10.8 -10.8zM333.3 435.3l10.8 10.8l-10.8 10.8l-10.8 -10.8zM337.1 439.1l10.8 10.8l-10.8 10.8l-10.8 -10.8zM337.7 442.3l10.8 10.8l-10.8 10.8l-10.8 -10.8zM336.7 447.3l10.8 10.8l-10.8 10.8l-10.8 -10.8zM336.1 450.9l10.8 10.8l-10.8 10.8l-10.8 -10.8zM337.5 456.5l10.8 10.8l-10.8 10.8l-10.8 -10.8zM335.6 459.6l10.8 10.8l-10.8 10.8l-10.8 -10.8zM347.1 339.6l10.8 10.8l-10.8 10.8l-10.8 -10.8zM350.2 344.5l10.8 10.8l-10.8 10.8l-10.8 -10.8zM351.1 346.3l10.8 10.8l-10.8 10.8l-10.8 -10.8zM348.8 351.5l10.8 10.8l-10.8 10.8l-10.8 -10.8zM346.9 354.9l10.8 10.8l-10.8 10.8l-10.8 -10.8zM347.7 357.8l10.8 10.8l-10.8 10.8l-10.8 -10.8zM347.1 363.8l10.8 10.8l-10.8 10.8l-10.8 -10.8zM347.5 366.2l10.8 10.8l-10.8 10.8l-10.8 -10.8zM348.8 372.2l10.8 10.8l-10.8 10.8l-10.8 -10.8zM347.2 374.8l10.8 10.8l-10.8 10.8l-10.8 -10.8zM349.7 380.2l10.8 10.8l-10.8 10.8l-10.8 -10.8zM351.1 384.1l10.8 10.8l-10.8 10.8l-10.8 -10.8zM348.2 386.7l10.8 10.8l-10.8 10.8l-10.8 -10.8zM348.7 392.2l10.8 10.8l-10.8 10.8l-10.8 -10.8zM351.8 393.9l10.8 10.8l-10.8 10.8l-10.8 -10.8zM347.7 398.2l10.8 10.8l-10.8 10.8l-10.8 -10.8zM348.0 403.1l10.8 10.8l-10.8 10.8l-10.8 -10.8zM349.9 406.4l10.8 10.8l-10.8 10.8l-10.8 -10.8zM346.8 410.8l10.8 10.8l-10.8 10.8l-10.8 -10.8zM348.7 415.3l10.8 10.8l-10.8 10.8l-10.8 -10.8zM351.8 419.7l10.8 10.8l-10.8 10.8l-10.8 -10.8zM349.5 423.5l10.8 10.8l-10.8 10.8l-10.8 -10.8zM350.3 425.7l10.8 10.8l-10.8 10.8l-10.8 -10.8zM351.5 432.0l10.8 10.8l-10.8 10.8l-10.8 -10.8zM351.3 436.0l10.8 10.8l-10.8 10.8l-10.8 -10.8zM348.8 438.8l10.8 10.8l-10.8 10.8l-10.8 -10.8zM347.3 443.5l10.8 10.8l-10.8 10.8l-10.8 -10.8zM347.1 445.8l10.8 10.8l-10.8 10.8l-10.8 -10.8zM347.9 450.0l10.8 10.8l-10.8 10.8l-10.8 -10.8zM348.6 453.7l10.8 10.8l-10.8 10.8l-10.8 -10.8zM346.8 458.0l10.8 10.8l-10.8 10.8l-10.8 -10.8zM358.5 361.0l10.8 10.8l-10.8 10.8l-10.8 -10.8zM358.2 366.5l10.8 10.8l-10.8 10.8l-10.8 -10.8zM361.4 368.2l10.8 10.8l-10.8 10.8l-10.8 -10.8zM359.5 372.8l10.8 10.8l-10.8 10.8l-10.8 -10.8zM360.2 376.1l10.8 10.8l-10.8 10.8l-10.8 -10.8zM362.8 382.8l10.8 10.8l-10.8 10.8l-10.8 -10.8zM360.9 385.1l10.8 10.8l-10.8 10.8l-10.8 -10.8zM358.9 388.0l10.8 10.8l-10.8 10.8l-10.8 -10.8zM360.4 392.5l10.8 10.8l-10.8 10.8l-10.8 -10.8zM363.0 396.1l10.8 10.8l-10.8 10.8l-10.8 -10.8zM358.9 402.6l10.8 10.8l-10.8 10.8l-10.8 -10.8zM361.8 404.2l10.8 10.8l-10.8 10.8l-10.8 -10.8zM362.3 407.9l10.8 10.8l-10.8 10.8l-10.8 -10.8zM359.9 414.7l10.8 10.8l-10.8 10.8l-10.8 -10.8zM359.3 417.7l10.8 10.8l-10.8 10.8l-10.8 -10.8zM354.2 420.3l10.8 10.8l-10.8 10.8l-10.8 -10.8zM351.7 425.1l10.8 10.8l-10.8 10.8l-10.8 -10.8zM353.6 429.1l10.8 10.8l-10.8 10.8l-10.8 -10.8zM352.5 431.1l10.8 10.8l-10.8 10.8l-10.8 -10.8zM354.9 437.4l10.8 10.8l-10.8 10.8l-10.8 -10.8zM355.1 440.8l10.8 10.8l-10.8 10.8l-10.8 -10.8zM355.0 444.4l10.8 10.8l-10.8 10.8l-10.8 -10.8zM351.8 447.6l10.8 10.8l-10.8 10.8l-10.8 -10.8zM352.4 449.9l10.8 10.8l-10.8 10.8l-10.8 -10.8zM350.7 454.6l10.8 10.8l-10.8 10.8l-10.8 -10.8zM351.9 459.7l10.8 10.8l-10.8 10.8l-10.8 -10.8zM345.6 351.2l10.8 10.8l-10.8 10.8l-10.8 -10.8zM345.5 356.9l10.8 10.8l-10.8 10.8l-10.8 -10.8zM345.6 359.0l10.8 10.8l-10.8 10.8l-10.8 -10.8zM341.7 362.5l10.8 10.8l-10.8 10.8l-10.8 -10.8zM341.6 366.5l10.8 10.8l-10.8 10.8l-10.8 -10.8zM343.8 372.6l10.8 10.8l-10.8 10.8l-10.8 -10.8zM345.0 375.2l10.8 10.8l-10.8 10.8l-10.8 -10.8zM344.0 380.2l10.8 10.8l-10.8 10.8l-10.8 -10.8zM341.0 383.8l10.8 10.8l-10.8 10.8l-10.8 -10.8zM345.3 388.2l10.8 10.8l-10.8 10.8l-10.8 -10.8zM344.5 391.2l10.8 10.8l-10.8 10.8l-10.8 -10.8zM341.5 396.2l10.8 10.8l-10.8 10.8l-10.8 -10.8zM342.3 400.2l10.8 10.8l-10.8 10.8l-10.8 -10.8zM345.7 403.0l10.8 10.8l-10.8 10.8l-10.8 -10.8zM342.7 408.7l10.8 10.8l-10.8 10.8l-10.8 -10.8zM344.4 410.3l10.8 10.8l-10.8 10.8l-10.8 -10.8zM341.3 414.1l10.8 10.8l-10.8 10.8l-10.8 -10.8zM345.3 420.2l10.8 10.8l-10.8 10.8l-10.8 -10.8zM341.4 424.2l10.8 10.8l-10.8 10.8l-10.8 -10.8zM345.7 427.7l10.8 10.8l-10.8 10.8l-10.8 -10.8zM342.4 431.4l10.8 10.8l-10.8 10.8l-10.8 -10.8zM341.3 433.7l10.8 10.8l-10.8 10.8l-10.8 -10.8zM345.6 439.7l10.8 10.8l-10.8 10.8l-10.8 -10.8zM343.3 444.6l10.8 10.8l-10.8 10.8l-10.8 -10.8zM342.9 448.4l10.8 10.8l-10.8 10.8l-10.8 -10.8zM344.9 450.3l10.8 10.8l-10.8 10.8l-10.8 -10.8zM341.9 454.5l10.8 10.8l-10.8 10.8l-10.8 -10.8zM341.9 459.4l10.8 10.8l-10.8 10.8l-10.8 -10.8zM354.3 351.1l10.8 10.8l-10.8 10.8l-10.8 -10.8zM353.8 356.7l10.8 10.8l-10.8 10.8l-10.8 -10.8zM354.9 359.3l10.8 10.8l-10.8 10.8l-10.8 -10.8zM356.2 364.7l10.8 10.8l-10.8 10.8l-10.8 -10.8zM355.4 368.7l10.8 10.8l-10.8 10.8l-10.8 -10.8zM355.9 371.5l10.8 10.8l-10.8 10.8l-10.8 -10.8zM356.0 373.8l10.8 10.8l-10.8 10.8l-10.8 -10.8zM355.7 378.3l10.8 10.8l-10.8 10.8l-10.8 -10.8zM353.4 384.2l10.8 10.8l-10.8 10.8l-10.8 -10.8zM354.4 387.2l10.8 10.8l-10.8 10.8l-10.8 -10.8zM357.3 391.5l10.8 10.8l-10.8 10.8l-10.8 -10.8zM355.3 395.4l10.8 10.8l-10.8 10.8l-10.8 -10.8zM356.5 400.2l10.8 10.8l-10.8 10.8l-10.8 -10.8zM354.2 403.5l10.8 10.8l-10.8 10.8l-10.8 -10.8zM355.0 406.6l10.8 10.8l-10.8 10.8l-10.8 -10.8zM357.7 411.3l10.8 10.8l-10.8 10.8l-10.8 -10.8zM356.7 416.0l10.8 10.8l-10.8 10.8l-10.8 -10.8zM358.5 419.0l10.8 10.8l-10.8 10.8l-10.8 -10.8zM357.1 423.2l10.8 10.8l-10.8 10.8l-10.8 -10.8zM356.6 427.8l10.8 10.8l-10.8 10.8l-10.8 -10.8zM356.4 431.3l10.8 10.8l-10.8 10.8l-10.8 -10.8zM356.5 436.6l10.8 10.8l-10.8 10.8l-10.8 -10.8zM357.7 440.4l10.8 10.8l-10.8 10.8l-10.8 -10.8zM359.0 442.4l10.8 10.8l-10.8 10.8l-10.8 -10.8zM357.1 448.6l10.8 10.8l-10.8 10.8l-10.8 -10.8zM358.6 450.1l10.8 10.8l-10.8 10.8l-10.8 -10.8zM354.8 454.9l10.8 10.8l-10.8 10.8l-10.8 -10.8zM354.7 458.3l10.8 10.8l-10.8 10.8l-10.8 -10.8zM344.7 337.0l10.8 10.8l-10.8 10.8l-10.8 -10.8zM352.5 337.7l10.8 10.8l-10.8 10.8l-10.8 -10.8zM353.3 337.2l10.8 10.8l-10.8 10.8l-10.8 -10.8zM360.0 335.4l10.8 10.8l-10.8 10.8l-10.8 -10.8zM365.3 338.0l10.8 10.8l-10.8 10.8l-10.8 -10.8zM365.9 337.9l10.8 10.8l-10.8 10.8l-10.8 -10.8zM371.0 336.5l10.8 10.8l-10.8 10.8l-10.8 -10.8zM378.1 337.5l10.8 10.8l-10.8 10.8l-10.8 -10.8zM377.8 336.3l10.8 10.8l-10.8 10.8l-10.8 -10.8zM383.8 336.0l10.8 10.8l-10.8 10.8l-10.8 -10.8zM386.2 335.9l10.8 10.8l-10.8 10.8l-10.8 -10.8zM393.1 335.0l10.8 10.8l-10.8 10.8l-10.8 -10.8zM396.3 336.3l10.8 10.8l-10.8 10.8l-10.8 -10.8zM397.6 336.0l10.8 10.8l-10.8 10.8l-10.8 -10.8zM404.8 336.5l10.8 10.8l-10.8 10.8l-10.8 -10.8zM363.3 304.4l10.8 10.8l-10.8 10.8l-10.8 -10.8zM370.0 307.3l10.8 10.8l-10.8 10.8l-10.8 -10.8zM369.3 308.0l10.8 10.8l-10.8 10.8l-10.8 -10.8zM371.9 312.5l10.8 10.8l-10.8 10.8l-10.8 -10.8zM375.6 312.9l10.8 10.8l-10.8 10.8l-10.8 -10.8zM378.9 317.9l10.8 10.8l-10.8 10.8l-10.8 -10.8zM383.5 318.3l10.8 10.8l-10.8 10.8l-10.8 -10.8zM382.5 322.8l10.8 10.8l-10.8 10.8l-10.8 -10.8zM379.7 294.8l10.8 10.8l-10.8 10.8l-10.8 -10.8zM379.7 295.3l10.8 10.8l-10.8 10.8l-10.8 -10.8zM385.3 299.0l10.8 10.8l-10.8 10.8l-10.8 -10.8zM384.5 303.0l10.8 10.8l-10.8 10.8l-10.8 -10.8zM389.9 305.0l10.8 10.8l-10.8 10.8l-10.8 -10.8zM397.0 290.3l10.8 10.8l-10.8 10.8l-10.8 -10.8zM396.9 294.3l10.8 10.8l-10.8 10.8l-10.8 -10.8zM399.0 296.8l10.8 10.8l-10.8 10.8l-10.8 -10.8zM399.6 302.6l10.8 10.8l-10.8 10.8l-10.8 -10.8zM398.1 304.2l10.8 10.8l-10.8 10.8l-10.8 -10.8zM399.4 308.6l10.8 10.8l-10.8 10.8l-10.8 -10.8zM397.4 312.4l10.8 10.8l-10.8 10.8l-10.8 -10.8zM397.1 316.6l10.8 10.8l-10.8 10.8l-10.8 -10.8zM398.4 321.0l10.8 10.8l-10.8 10.8l-10.8 -10.8zM400.8 324.9l10.8 10.8l-10.8 10.8l-10.8 -10.8zM399.5 328.7l10.8 10.8l-10.8 10.8l-10.8 -10.8zM398.7 332.2l10.8 10.8l-10.8 10.8l-10.8 -10.8zM398.2 336.3l10.8 10.8l-10.8 10.8l-10.8 -10.8zM400.8 342.0l10.8 10.8l-10.8 10.8l-10.8 -10.8zM398.0 345.7l10.8 10.8l-10.8 10.8l-10.8 -10.8zM401.9 348.7l10.8 10.8l-10.8 10.8l-10.8 -10.8zM401.4 353.7l10.8 10.8l-10.8 10.8l-10.8 -10.8zM399.7 359.0l10.8 10.8l-10.8 10.8l-10.8 -10.8zM399.1 362.0l10.8 10.8l-10.8 10.8l-10.8 -10.8zM400.7 367.6l10.8 10.8l-10.8 10.8l-10.8 -10.8zM399.0 371.1l10.8 10.8l-10.8 10.8l-10.8 -10.8zM400.9 374.6l10.8 10.8l-10.8 10.8l-10.8 -10.8zM399.3 377.7l10.8 10.8l-10.8 10.8l-10.8 -10.8zM397.6 381.1l10.8 10.8l-10.8 10.8l-10.8 -10.8zM397.7 387.1l10.8 10.8l-10.8 10.8l-10.8 -10.8zM398.6 389.3l10.8 10.8l-10.8 10.8l-10.8 -10.8zM397.8 395.5l10.8 10.8l-10.8 10.8l-10.8 -10.8zM401.9 398.9l10.8 10.8l-10.8 10.8l-10.8 -10.8zM398.9 401.7l10.8 10.8l-10.8 10.8l-10.8 -10.8zM398.9 406.4l10.8 10.8l-10.8 10.8l-10.8 -10.8zM398.3 410.4l10.8 10.8l-10.8 10.8l-10.8 -10.8zM398.9 416.0l10.8 10.8l-10.8 10.8l-10.8 -10.8zM402.6 418.8l10.8 10.8l-10.8 10.8l-10.8 -10.8zM398.9 424.2l10.8 10.8l-10.8 10.8l-10.8 -10.8zM399.2 426.4l10.8 10.8l-10.8 10.8l-10.8 -10.8zM397.6 430.4l10.8 10.8l-10.8 10.8l-10.8 -10.8zM400.2 434.9l10.8 10.8l-10.8 10.8l-10.8 -10.8zM398.7 438.9l10.8 10.8l-10.8 10.8l-10.8 -10.8zM397.7 442.2l10.8 10.8l-10.8 10.8l-10.8 -10.8zM398.2 446.7l10.8 10.8l-10.8 10.8l-10.8 -10.8zM398.0 449.5l10.8 10.8l-10.8 10.8l-10.8 -10.8zM399.4 454.3l10.8 10.8l-10.8 10.8l-10.8 -10.8zM400.8 459.2l10.8 10.8l-10.8 10.8l-10.8 -10.8zM391.8 289.7l10.8 10.8l-10.8 10.8l-10.8 -10.8zM391.7 294.5l10.8 10.8l-10.8 10.8l-10.8 -10.8zM390.1 297.0l10.8 10.8l-10.8 10.8l-10.8 -10.8zM393.3 300.5l10.8 10.8l-10.8 10.8l-10.8 -10.8zM392.1 306.2l10.8 10.8l-10.8 10.8l-10.8 -10.8zM388.6 310.9l10.8 10.8l-10.8 10.8l-10.8 -10.8zM393.1 314.5l10.8 10.8l-10.8 10.8l-10.8 -10.8zM392.4 319.2l10.8 10.8l-10.8 10.8l-10.8 -10.8zM389.4 322.5l10.8 10.8l-10.8 10.8l-10.8 -10.8zM391.4 327.5l10.8 10.8l-10.8 10.8l-10.8 -10.8zM393.1 331.7l10.8 10.8l-10.8 10.8l-10.8 -10.8zM392.0 336.0l10.8 10.8l-10.8 10.8l-10.8 -10.8zM392.7 339.6l10.8 10.8l-10.8 10.8l-10.8 -10.8zM390.3 367.3l10.8 10.8l-10.8 10.8l-10.8 -10.8zM390.7 372.6l10.8 10.8l-10.8 10.8l-10.8 -10.8zM391.3 378.1l10.8 10.8l-10.8 10.8l-10.8 -10.8zM394.5 381.7l10.8 10.8l-10.8 10.8l-10.8 -10.8zM396.5 385.8l10.8 10.8l-10.8 10.8l-10.8 -10.8zM397.3 387.7l10.8 10.8l-10.8 10.8l-10.8 -10.8zM400.5 394.0l10.8 10.8l-10.8 10.8l-10.8 -10.8zM400.6 397.3l10.8 10.8l-10.8 10.8l-10.8 -10.8zM403.0 399.8l10.8 10.8l-10.8 10.8l-10.8 -10.8zM401.3 403.8l10.8 10.8l-10.8 10.8l-10.8 -10.8zM395.8 407.4l10.8 10.8l-10.8 10.8l-10.8 -10.8zM397.1 410.7l10.8 10.8l-10.8 10.8l-10.8 -10.8zM395.0 416.6l10.8 10.8l-10.8 10.8l-10.8 -10.8zM391.7 418.2l10.8 10.8l-10.8 10.8l-10.8 -10.8zM342.4 389.8l10.8 10.8l-10.8 10.8l-10.8 -10.8zM343.9 394.0l10.8 10.8l-10.8 10.8l-10.8 -10.8zM343.2 396.6l10.8 10.8l-10.8 10.8l-10.8 -10.8zM340.7 401.5l10.8 10.8l-10.8 10.8l-10.8 -10.8zM343.8 406.0l10.8 10.8l-10.8 10.8l-10.8 -10.8zM341.2 408.2l10.8 10.8l-10.8 10.8l-10.8 -10.8zM336.8 412.1l10.8 10.8l-10.8 10.8l-10.8 -10.8zM338.3 416.5l10.8 10.8l-10.8 10.8l-10.8 -10.8zM336.6 418.4l10.8 10.8l-10.8 10.8l-10.8 -10.8zM336.0 423.2l10.8 10.8l-10.8 10.8l-10.8 -10.8zM335.9 426.4l10.8 10.8l-10.8 10.8l-10.8 -10.8zM338.3 431.0l10.8 10.8l-10.8 10.8l-10.8 -10.8zM339.0 437.5l10.8 10.8l-10.8 10.8l-10.8 -10.8zM334.1 440.3l10.8 10.8l-10.8 10.8l-10.8 -10.8zM338.5 446.1l10.8 10.8l-10.8 10.8l-10.8 -10.8zM336.7 448.2l10.8 10.8l-10.8 10.8l-10.8 -10.8zM332.6 453.6l10.8 10.8l-10.8 10.8l-10.8 -10.8zM329.7 455.8l10.8 10.8l-10.8 10.8l-10.8 -10.8zM326.4 459.0l10.8 10.8l-10.8 10.8l-10.8 -10.8zM335.0 459.0l10.8 10.8l-10.8 10.8l-10.8 -10.8zM338.7 461.4l10.8 10.8l-10.8 10.8l-10.8 -10.8zM343.1 463.6l10.8 10.8l-10.8 10.8l-10.8 -10.8zM343.9 465.9l10.8 10.8l-10.8 10.8l-10.8 -10.8zM349.3 464.8l10.8 10.8l-10.8 10.8l-10.8 -10.8zM346.8 389.2l10.8 10.8l-10.8 10.8l-10.8 -10.8zM349.1 392.5l10.8 10.8l-10.8 10.8l-10.8 -10.8zM347.5 396.6l10.8 10.8l-10.8 10.8l-10.8 -10.8zM348.4 402.1l10.8 10.8l-10.8 10.8l-10.8 -10.8zM346.8 405.7l10.8 10.8l-10.8 10.8l-10.8 -10.8zM351.2 407.6l10.8 10.8l-10.8 10.8l-10.8 -10.8zM351.6 413.5l10.8 10.8l-10.8 10.8l-10.8 -10.8zM351.5 416.0l10.8 10.8l-10.8 10.8l-10.8 -10.8zM348.7 420.3l10.8 10.8l-10.8 10.8l-10.8 -10.8zM352.0 424.9l10.8 10.8l-10.8 10.8l-10.8 -10.8zM348.7 428.3l10.8 10.8l-10.8 10.8l-10.8 -10.8zM348.2 431.0l10.8 10.8l-10.8 10.8l-10.8 -10.8zM347.3 437.3l10.8 10.8l-10.8 10.8l-10.8 -10.8zM348.3 441.7l10.8 10.8l-10.8 10.8l-10.8 -10.8zM348.1 443.5l10.8 10.8l-10.8 10.8l-10.8 -10.8zM349.5 447.1l10.8 10.8l-10.8 10.8l-10.8 -10.8zM348.7 453.5l10.8 10.8l-10.8 10.8l-10.8 -10.8zM351.4 457.0l10.8 10.8l-10.8 10.8l-10.8 -10.8zM350.1 461.2l10.8 10.8l-10.8 10.8l-10.8 -10.8zM351.7 464.0l10.8 10.8l-10.8 10.8l-10.8 -10.8zM344.3 387.8l10.8 10.8l-10.8 10.8l-10.8 -10.8zM344.4 393.0l10.8 10.8l-10.8 10.8l-10.8 -10.8zM344.5 397.7l10.8 10.8l-10.8 10.8l-10.8 -10.8zM342.1 399.8l10.8 10.8l-10.8 10.8l-10.8 -10.8zM345.4 404.0l10.8 10.8l-10.8 10.8l-10.8 -10.8zM343.1 408.7l10.8 10.8l-10.8 10.8l-10.8 -10.8zM342.1 414.0l10.8 10.8l-10.8 10.8l-10.8 -10.8zM345.7 416.6l10.8 10.8l-10.8 10.8l-10.8 -10.8zM344.0 420.7l10.8 10.8l-10.8 10.8l-10.8 -10.8zM343.5 425.0l10.8 10.8l-10.8 10.8l-10.8 -10.8zM341.5 428.2l10.8 10.8l-10.8 10.8l-10.8 -10.8zM341.7 434.6l10.8 10.8l-10.8 10.8l-10.8 -10.8zM343.2 436.4l10.8 10.8l-10.8 10.8l-10.8 -10.8zM345.3 442.8l10.8 10.8l-10.8 10.8l-10.8 -10.8zM342.9 444.2l10.8 10.8l-10.8 10.8l-10.8 -10.8zM341.6 448.0l10.8 10.8l-10.8 10.8l-10.8 -10.8zM342.4 452.0l10.8 10.8l-10.8 10.8l-10.8 -10.8zM341.8 456.5l10.8 10.8l-10.8 10.8l-10.8 -10.8zM343.6 462.6l10.8 10.8l-10.8 10.8l-10.8 -10.8zM356.9 388.9l10.8 10.8l-10.8 10.8l-10.8 -10.8zM355.0 393.3l10.8 10.8l-10.8 10.8l-10.8 -10.8zM354.6 396.7l10.8 10.8l-10.8 10.8l-10.8 -10.8zM352.7 400.5l10.8 10.8l-10.8 10.8l-10.8 -10.8zM357.2 404.0l10.8 10.8l-10.8 10.8l-10.8 -10.8zM354.6 409.6l10.8 10.8l-10.8 10.8l-10.8 -10.8zM356.3 412.4l10.8 10.8l-10.8 10.8l-10.8 -10.8zM353.0 416.5l10.8 10.8l-10.8 10.8l-10.8 -10.8zM353.5 421.1l10.8 10.8l-10.8 10.8l-10.8 -10.8zM356.2 426.4l10.8 10.8l-10.8 10.8l-10.8 -10.8zM355.5 427.8l10.8 10.8l-10.8 10.8l-10.8 -10.8zM351.0 434.0l10.8 10.8l-10.8 10.8l-10.8 -10.8zM355.3 437.2l10.8 10.8l-10.8 10.8l-10.8 -10.8zM353.5 439.7l10.8 10.8l-10.8 10.8l-10.8 -10.8zM352.1 446.6l10.8 10.8l-10.8 10.8l-10.8 -10.8zM354.2 450.4l10.8 10.8l-10.8 10.8l-10.8 -10.8zM354.8 452.5l10.8 10.8l-10.8 10.8l-10.8 -10.8zM350.1 456.2l10.8 10.8l-10.8 10.8l-10.8 -10.8zM352.0 462.0l10.8 10.8l-10.8 10.8l-10.8 -10.8zM358.2 425.0l10.8 10.8l-10.8 10.8l-10.8 -10.8zM356.5 429.0l10.8 10.8l-10.8 10.8l-10.8 -10.8zM355.3 432.2l10.8 10.8l-10.8 10.8l-10.8 -10.8zM352.9 436.8l10.8 10.8l-10.8 10.8l-10.8 -10.8zM353.6 441.1l10.8 10.8l-10.8 10.8l-10.8 -10.8zM355.6 443.1l10.8 10.8l-10.8 10.8l-10.8 -10.8zM352.7 446.7l10.8 10.8l-10.8 10.8l-10.8 -10.8zM355.1 452.0l10.8 10.8l-10.8 10.8l-10.8 -10.8zM354.1 454.2l10.8 10.8l-10.8 10.8l-10.8 -10.8zM357.8 460.0l10.8 10.8l-10.8 10.8l-10.8 -10.8zM358.8 462.9l10.8 10.8l-10.8 10.8l-10.8 -10.8zM359.9 488.5l10.8 10.8l-10.8 10.8l-10.8 -10.8zM362.1 491.7l10.8 10.8l-10.8 10.8l-10.8 -10.8zM369.2 494.2l10.8 10.8l-10.8 10.8l-10.8 -10.8zM373.2 494.8l10.8 10.8l-10.8 10.8l-10.8 -10.8zM374.2 495.4l10.8 10.8l-10.8 10.8l-10.8 -10.8zM381.7 496.8l10.8 10.8l-10.8 10.8l-10.8 -10.8zM382.0 494.7l10.8 10.8l-10.8 10.8l-10.8 -10.8zM385.9 495.0l10.8 10.8l-10.8 10.8l-10.8 -10.8zM388.4 492.1l10.8 10.8l-10.8 10.8l-10.8 -10.8zM392.6 492.5l10.8 10.8l-10.8 10.8l-10.8 -10.8zM393.6 488.1l10.8 10.8l-10.8 10.8l-10.8 -10.8zM397.6 487.7l10.8 10.8l-10.8 10.8l-10.8 -10.8zM402.6 485.3l10.8 10.8l-10.8 10.8l-10.8 -10.8zM404.7 483.5l10.8 10.8l-10.8 10.8l-10.8 -10.8zM404.7 478.4l10.8 10.8l-10.8 10.8l-10.8 -10.8zM408.6 475.2l10.8 10.8l-10.8 10.8l-10.8 -10.8zM409.3 471.5l10.8 10.8l-10.8 10.8l-10.8 -10.8zM407.7 469.6l10.8 10.8l-10.8 10.8l-10.8 -10.8zM409.9 466.5l10.8 10.8l-10.8 10.8l-10.8 -10.8zM412.9 460.4l10.8 10.8l-10.8 10.8l-10.8 -10.8zM411.8 457.3l10.8 10.8l-10.8 10.8l-10.8 -10.8zM414.4 455.3l10.8 10.8l-10.8 10.8l-10.8 -10.8zM412.0 449.9l10.8 10.8l-10.8 10.8l-10.8 -10.8zM412.6 447.9l10.8 10.8l-10.8 10.8l-10.8 -10.8zM412.2 440.9l10.8 10.8l-10.8 10.8l-10.8 -10.8zM411.8 437.8l10.8 10.8l-10.8 10.8l-10.8 -10.8zM416.2 435.2l10.8 10.8l-10.8 10.8l-10.8 -10.8zM416.1 431.4l10.8 10.8l-10.8 10.8l-10.8 -10.8zM418.0 425.2l10.8 10.8l-10.8 10.8l-10.8 -10.8zM415.0 422.9l10.8 10.8l-10.8 10.8l-10.8 -10.8zM414.8 418.2l10.8 10.8l-10.8 10.8l-10.8 -10.8zM411.3 417.4l10.8 10.8l-10.8 10.8l-10.8 -10.8zM406.6 415.4l10.8 10.8l-10.8 10.8l-10.8 -10.8zM402.5 412.5l10.8 10.8l-10.8 10.8l-10.8 -10.8zM363.3 439.7l10.8 10.8l-10.8 10.8l-10.8 -10.8zM369.6 436.2l10.8 10.8l-10.8 10.8l-10.8 -10.8zM372.4 433.7l10.8 10.8l-10.8 10.8l-10.8 -10.8zM372.1 432.7l10.8 10.8l-10.8 10.8l-10.8 -10.8zM377.3 428.7l10.8 10.8l-10.8 10.8l-10.8 -10.8zM376.2 426.0l10.8 10.8l-10.8 10.8l-10.8 -10.8zM380.6 424.6l10.8 10.8l-10.8 10.8l-10.8 -10.8zM382.5 420.1l10.8 10.8l-10.8 10.8l-10.8 -10.8zM389.0 416.1l10.8 10.8l-10.8 10.8l-10.8 -10.8zM389.2 415.8l10.8 10.8l-10.8 10.8l-10.8 -10.8zM401.8 387.8l10.8 10.8l-10.8 10.8l-10.8 -10.8zM398.1 391.7l10.8 10.8l-10.8 10.8l-10.8 -10.8zM402.7 396.3l10.8 10.8l-10.8 10.8l-10.8 -10.8zM401.9 402.2l10.8 10.8l-10.8 10.8l-10.8 -10.8zM399.8 404.3l10.8 10.8l-10.8 10.8l-10.8 -10.8zM403.1 409.3l10.8 10.8l-10.8 10.8l-10.8 -10.8zM399.5 413.5l10.8 10.8l-10.8 10.8l-10.8 -10.8zM399.8 416.1l10.8 10.8l-10.8 10.8l-10.8 -10.8zM398.2 421.5l10.8 10.8l-10.8 10.8l-10.8 -10.8zM403.1 425.1l10.8 10.8l-10.8 10.8l-10.8 -10.8zM403.2 427.1l10.8 10.8l-10.8 10.8l-10.8 -10.8zM399.6 432.4l10.8 10.8l-10.8 10.8l-10.8 -10.8zM403.5 437.9l10.8 10.8l-10.8 10.8l-10.8 -10.8zM400.5 439.6l10.8 10.8l-10.8 10.8l-10.8 -10.8zM400.8 444.4l10.8 10.8l-10.8 10.8l-10.8 -10.8zM403.4 447.3l10.8 10.8l-10.8 10.8l-10.8 -10.8zM402.9 452.9l10.8 10.8l-10.8 10.8l-10.8 -10.8zM403.0 457.1l10.8 10.8l-10.8 10.8l-10.8 -10.8zM402.0 459.6l10.8 10.8l-10.8 10.8l-10.8 -10.8zM400.5 463.6l10.8 10.8l-10.8 10.8l-10.8 -10.8zM403.0 466.7l10.8 10.8l-10.8 10.8l-10.8 -10.8zM399.9 472.7l10.8 10.8l-10.8 10.8l-10.8 -10.8zM400.3 474.5l10.8 10.8l-10.8 10.8l-10.8 -10.8zM399.2 480.0l10.8 10.8l-10.8 10.8l-10.8 -10.8zM400.8 485.2l10.8 10.8l-10.8 10.8l-10.8 -10.8zM313.0 370.7l10.8 10.8l-10.8 10.8l-10.8 -10.8zM322.0 373.2l10.8 10.8l-10.8 10.8l-10.8 -10.8zM385.8 282.3l10.8 10.8l-10.8 10.8l-10.8 -10.8zM381.8 283.5l10.8 10.8l-10.8 10.8l-10.8 -10.8zM380.1 288.9l10.8 10.8l-10.8 10.8l-10.8 -10.8zM387.3 290.3l10.8 10.8l-10.8 10.8l-10.8 -10.8zM388.8 291.8l10.8 10.8l-10.8 10.8l-10.8 -10.8zM404.3 364.3l10.8 10.8l-10.8 10.8l-10.8 -10.8zM405.2 369.1l10.8 10.8l-10.8 10.8l-10.8 -10.8zM405.0 370.9l10.8 10.8l-10.8 10.8l-10.8 -10.8zM406.1 375.7l10.8 10.8l-10.8 10.8l-10.8 -10.8zM404.8 380.0l10.8 10.8l-10.8 10.8l-10.8 -10.8zM405.9 383.7l10.8 10.8l-10.8 10.8l-10.8 -10.8zM403.6 387.9l10.8 10.8l-10.8 10.8l-10.8 -10.8zM403.1 394.1l10.8 10.8l-10.8 10.8l-10.8 -10.8zM405.3 396.5l10.8 10.8l-10.8 10.8l-10.8 -10.8zM404.4 402.7l10.8 10.8l-10.8 10.8l-10.8 -10.8zM406.8 403.8l10.8 10.8l-10.8 10.8l-10.8 -10.8zM410.2 408.6l10.8 10.8l-10.8 10.8l-10.8 -10.8zM413.0 410.4l10.8 10.8l-10.8 10.8l-10.8 -10.8zM412.2 416.1l10.8 10.8l-10.8 10.8l-10.8 -10.8zM415.9 419.9l10.8 10.8l-10.8 10.8l-10.8 -10.8zM410.1 421.3l10.8 10.8l-10.8 10.8l-10.8 -10.8zM408.8 424.2l10.8 10.8l-10.8 10.8l-10.8 -10.8zM411.6 428.8l10.8 10.8l-10.8 10.8l-10.8 -10.8zM412.4 431.4l10.8 10.8l-10.8 10.8l-10.8 -10.8zM413.2 435.0l10.8 10.8l-10.8 10.8l-10.8 -10.8zM411.2 439.4l10.8 10.8l-10.8 10.8l-10.8 -10.8zM414.7 441.4l10.8 10.8l-10.8 10.8l-10.8 -10.8zM412.9 447.1l10.8 10.8l-10.8 10.8l-10.8 -10.8zM410.9 450.5l10.8 10.8l-10.8 10.8l-10.8 -10.8zM410.5 454.1l10.8 10.8l-10.8 10.8l-10.8 -10.8zM411.1 459.4l10.8 10.8l-10.8 10.8l-10.8 -10.8zM359.2 445.5l10.8 10.8l-10.8 10.8l-10.8 -10.8zM355.5 450.0l10.8 10.8l-10.8 10.8l-10.8 -10.8zM358.5 453.5l10.8 10.8l-10.8 10.8l-10.8 -10.8zM356.3 457.7l10.8 10.8l-10.8 10.8l-10.8 -10.8zM358.4 462.7l10.8 10.8l-10.8 10.8l-10.8 -10.8zM356.0 465.5l10.8 10.8l-10.8 10.8l-10.8 -10.8zM359.2 471.1l10.8 10.8l-10.8 10.8l-10.8 -10.8zM361.8 473.7l10.8 10.8l-10.8 10.8l-10.8 -10.8zM361.3 479.2l10.8 10.8l-10.8 10.8l-10.8 -10.8zM364.4 481.5l10.8 10.8l-10.8 10.8l-10.8 -10.8zM365.8 487.1l10.8 10.8l-10.8 10.8l-10.8 -10.8zM372.1 436.7l10.8 10.8l-10.8 10.8l-10.8 -10.8zM375.4 433.2l10.8 10.8l-10.8 10.8l-10.8 -10.8zM381.0 431.9l10.8 10.8l-10.8 10.8l-10.8 -10.8zM381.4 426.5l10.8 10.8l-10.8 10.8l-10.8 -10.8zM386.3 423.5l10.8 10.8l-10.8 10.8l-10.8 -10.8zM385.6 422.7l10.8 10.8l-10.8 10.8l-10.8 -10.8zM390.8 419.3l10.8 10.8l-10.8 10.8l-10.8 -10.8zM393.7 416.5l10.8 10.8l-10.8 10.8l-10.8 -10.8zM399.7 437.9l10.8 10.8l-10.8 10.8l-10.8 -10.8zM397.5 443.2l10.8 10.8l-10.8 10.8l-10.8 -10.8zM400.8 448.3l10.8 10.8l-10.8 10.8l-10.8 -10.8zM398.1 451.5l10.8 10.8l-10.8 10.8l-10.8 -10.8zM399.6 455.1l10.8 10.8l-10.8 10.8l-10.8 -10.8zM398.6 458.5l10.8 10.8l-10.8 10.8l-10.8 -10.8zM400.6 464.5l10.8 10.8l-10.8 10.8l-10.8 -10.8zM398.6 467.3l10.8 10.8l-10.8 10.8l-10.8 -10.8zM402.3 472.8l10.8 10.8l-10.8 10.8l-10.8 -10.8zM383.0 435.2l10.8 10.8l-10.8 10.8l-10.8 -10.8zM389.0 430.2l10.8 10.8l-10.8 10.8l-10.8 -10.8zM378.0 439.2l10.8 10.8l-10.8 10.8l-10.8 -10.8zM494.5 339.2l10.8 10.8l-10.8 10.8l-10.8 -10.8zM301.6 490.2l10.8 10.8l-10.8 10.8l-10.8 -10.8zM306.8 500.8l10.8 10.8l-10.8 10.8l-10.8 -10.8zM309.5 511.3l10.8 10.8l-10.8 10.8l-10.8 -10.8zM304.2 495.5l10.8 10.8l-10.8 10.8l-10.8 -10.8zM312.1 520.2l10.8 10.8l-10.8 10.8l-10.8 -10.8zM326.8 352.8l10.8 10.8l-10.8 10.8l-10.8 -10.8zM320.0 364.2l10.8 10.8l-10.8 10.8l-10.8 -10.8z"/>
<path fill="#db0011" d="M589.1 210.4l10.8 10.8l-10.8 10.8l-10.8 -10.8zM589.4 211.0l10.8 10.8l-10.8 10.8l-10.8 -10.8zM579.5 251.3l10.8 10.8l-10.8 10.8l-10.8 -10.8zM601.1 100.9l10.8 10.8l-10.8 10.8l-10.8 -10.8zM611.0 93.4l10.8 10.8l-10.8 10.8l-10.8 -10.8zM621.0 88.9l10.8 10.8l-10.8 10.8l-10.8 -10.8zM630.9 91.4l10.8 10.8l-10.8 10.8l-10.8 -10.8zM639.6 82.7l10.8 10.8l-10.8 10.8l-10.8 -10.8zM651.6 67.8l10.8 10.8l-10.8 10.8l-10.8 -10.8zM664.5 79.0l10.8 10.8l-10.8 10.8l-10.8 -10.8zM673.2 69.0l10.8 10.8l-10.8 10.8l-10.8 -10.8zM683.2 65.3l10.8 10.8l-10.8 10.8l-10.8 -10.8zM691.9 69.0l10.8 10.8l-10.8 10.8l-10.8 -10.8zM700.6 75.2l10.8 10.8l-10.8 10.8l-10.8 -10.8zM708.0 76.5l10.8 10.8l-10.8 10.8l-10.8 -10.8zM713.0 79.0l10.8 10.8l-10.8 10.8l-10.8 -10.8zM709.3 83.9l10.8 10.8l-10.8 10.8l-10.8 -10.8zM681.9 103.8l10.8 10.8l-10.8 10.8l-10.8 -10.8zM689.4 100.1l10.8 10.8l-10.8 10.8l-10.8 -10.8zM698.1 100.1l10.8 10.8l-10.8 10.8l-10.8 -10.8zM705.6 97.6l10.8 10.8l-10.8 10.8l-10.8 -10.8zM691.9 96.4l10.8 10.8l-10.8 10.8l-10.8 -10.8zM601.1 133.7l10.8 10.8l-10.8 10.8l-10.8 -10.8zM614.7 133.7l10.8 10.8l-10.8 10.8l-10.8 -10.8zM625.2 132.5l10.8 10.8l-10.8 10.8l-10.8 -10.8zM635.9 134.9l10.8 10.8l-10.8 10.8l-10.8 -10.8zM645.8 138.7l10.8 10.8l-10.8 10.8l-10.8 -10.8zM649.6 142.4l10.8 10.8l-10.8 10.8l-10.8 -10.8zM655.8 131.2l10.8 10.8l-10.8 10.8l-10.8 -10.8zM663.3 121.3l10.8 10.8l-10.8 10.8l-10.8 -10.8zM673.2 121.3l10.8 10.8l-10.8 10.8l-10.8 -10.8zM667.0 127.5l10.8 10.8l-10.8 10.8l-10.8 -10.8zM669.5 116.3l10.8 10.8l-10.8 10.8l-10.8 -10.8z"/>
<line x1="413.5" y1="66.9" x2="413.5" y2="615.3" stroke="#000" stroke-width="3" stroke-dasharray="12.9 4.02"/>
<line x1="319" y1="82.2" x2="416.3" y2="107.1" stroke="#000" stroke-width="1.6"/>
<text x="99.6" y="36.1" font-size="26.8" text-anchor="end" textLength="34.6" lengthAdjust="spacingAndGlyphs">0.8</text>
<text x="99.6" y="105.3" font-size="26.8" text-anchor="end" textLength="34.6" lengthAdjust="spacingAndGlyphs">0.6</text>
<text x="99.6" y="174.4" font-size="26.8" text-anchor="end" textLength="34.6" lengthAdjust="spacingAndGlyphs">0.4</text>
<text x="99.6" y="243.6" font-size="26.8" text-anchor="end" textLength="34.6" lengthAdjust="spacingAndGlyphs">0.2</text>
<text x="99.6" y="312.7" font-size="26.8" text-anchor="end" textLength="34.6" lengthAdjust="spacingAndGlyphs">0.0</text>
<text x="99.6" y="381.9" font-size="26.8" text-anchor="end" textLength="43.6" lengthAdjust="spacingAndGlyphs">-0.2</text>
<text x="99.6" y="451.1" font-size="26.8" text-anchor="end" textLength="43.6" lengthAdjust="spacingAndGlyphs">-0.4</text>
<text x="99.6" y="520.2" font-size="26.8" text-anchor="end" textLength="43.6" lengthAdjust="spacingAndGlyphs">-0.6</text>
<text x="99.6" y="589.4" font-size="26.8" text-anchor="end" textLength="43.6" lengthAdjust="spacingAndGlyphs">-0.8</text>
<text x="123" y="625.5" font-size="26.8" text-anchor="middle" textLength="13.6" lengthAdjust="spacingAndGlyphs">0</text>
<text x="357" y="625.5" font-size="26.8" text-anchor="middle" textLength="13.6" lengthAdjust="spacingAndGlyphs">2</text>
<text x="591" y="625.5" font-size="26.8" text-anchor="middle" textLength="13.6" lengthAdjust="spacingAndGlyphs">4</text>
<text x="825" y="625.5" font-size="26.8" text-anchor="middle" textLength="13.6" lengthAdjust="spacingAndGlyphs">6</text>
<text x="1059" y="625.5" font-size="26.8" text-anchor="middle" textLength="13.6" lengthAdjust="spacingAndGlyphs">8</text>
<text x="1293" y="625.5" font-size="26.8" text-anchor="middle" textLength="26.6" lengthAdjust="spacingAndGlyphs">10</text>
<text x="1527" y="625.5" font-size="26.8" text-anchor="middle" textLength="26.6" lengthAdjust="spacingAndGlyphs">12</text>
<text x="825.0" y="656.8" font-size="25.6" text-anchor="middle" textLength="140.2" lengthAdjust="spacingAndGlyphs">Core CPI (%)</text>
<text transform="translate(42.0,524.2) rotate(-90)" font-size="25.6" textLength="441" lengthAdjust="spacingAndGlyphs">36-month rolling stock-bond correlation</text>
<text x="167.2" y="82.6" font-size="25.6" textLength="153.0" lengthAdjust="spacingAndGlyphs">2.5% core US</text>
<text x="167.2" y="112.4" font-size="25.6" textLength="89.0" lengthAdjust="spacingAndGlyphs">inflation</text>
<path fill="#d7d6d6" d="M1350 335.6l5.9 5.9l-5.9 5.9l-5.9 -5.9z"/>
<text x="1364.9" y="350.5" font-size="26.8" textLength="131.5" lengthAdjust="spacingAndGlyphs">1961 - 2000</text>
<path fill="#000" d="M1350 384.8l5.9 5.9l-5.9 5.9l-5.9 -5.9z"/>
<text x="1364.9" y="399.7" font-size="26.8" textLength="131.5" lengthAdjust="spacingAndGlyphs">2000 - 2022</text>
<path fill="#db0011" d="M1350 433.90000000000003l5.9 5.9l-5.9 5.9l-5.9 -5.9z"/>
<text x="1364.9" y="448.8" font-size="26.8" textLength="115.0" lengthAdjust="spacingAndGlyphs">2023-Now</text>
</svg>
</body></html>
